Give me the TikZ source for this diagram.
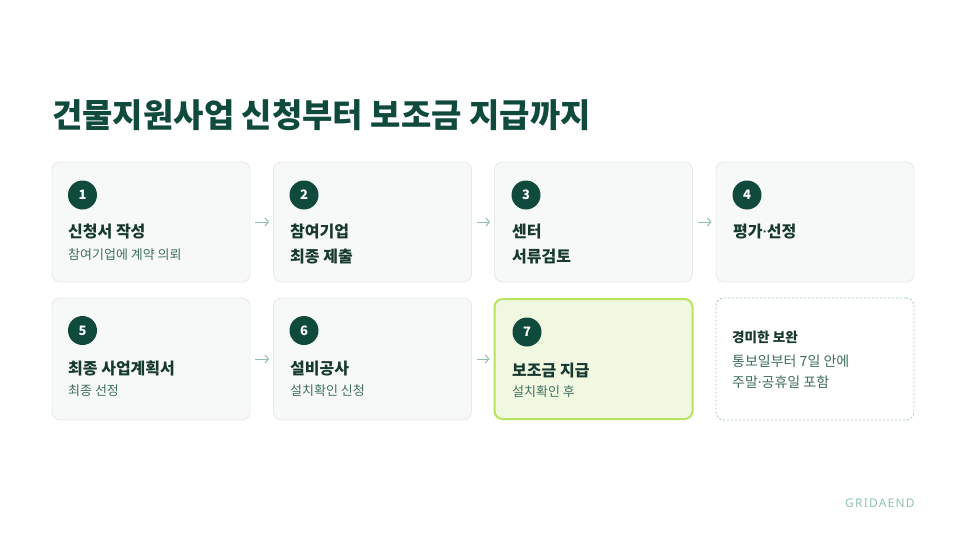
\documentclass[tikz,border=0pt]{standalone}
\usepackage{fontspec}
\setmainfont{Noto Sans CJK KR}
\newfontfamily\latinfont{Noto Sans}
\usetikzlibrary{arrows.meta}
\definecolor{dark}{HTML}{0F4A3D}
\definecolor{ttlcol}{HTML}{17392F}
\definecolor{subcol}{HTML}{3F6E60}
\definecolor{cardfill}{HTML}{F7F9F8}
\definecolor{cardline}{HTML}{E6EBE9}
\definecolor{hifill}{HTML}{F1F8E1}
\definecolor{hiline}{HTML}{B8E35F}
\definecolor{dotline}{HTML}{A9C7C0}
\definecolor{arrcol}{HTML}{8FC1AD}
\definecolor{brandcol}{HTML}{8FC3B6}
\newcommand{\mdot}{{\latinfont ·}}
\begin{document}
\begin{tikzpicture}[x=1pt,y=-1pt,
  card/.style={draw=cardline, line width=0.8pt, fill=cardfill, rounded corners=8pt, minimum width=198pt, inner sep=0pt},
  hicard/.style={card, draw=hiline, fill=hifill, line width=2pt},
  notecard/.style={card, draw=dotline, fill=white, line width=0.9pt, dash pattern=on 2pt off 2pt},
  num/.style={circle, fill=dark, minimum size=29pt, inner sep=0pt, text=white, font=\bfseries\fontsize{13}{13}\selectfont},
  ttl/.style={anchor=base west, inner sep=0pt, text=ttlcol, font=\bfseries\fontsize{16}{18}\selectfont},
  sub/.style={anchor=base west, inner sep=0pt, text=subcol, font=\fontsize{13}{15}\selectfont},
  notettl/.style={anchor=base west, inner sep=0pt, text=ttlcol, font=\bfseries\fontsize{13.6}{15}\selectfont},
  notetxt/.style={anchor=base west, inner sep=0pt, text=subcol, font=\fontsize{14}{15}\selectfont},
  arr/.style={draw=arrcol, line width=1pt, -{Straight Barb[length=3.5pt,width=8pt]}, shorten <=5pt, shorten >=4pt}
]
\useasboundingbox (0,0) rectangle (966,543);
\fill[white] (0,0) rectangle (966,543);

% main title
\node[anchor=base west, inner sep=0pt, text=dark, font=\bfseries\fontsize{33}{36}\selectfont] (title) at (52,127.5) {건물지원사업 신청부터 보조금 지급까지};

% row 1 cards
\node[card, minimum height=120pt] (b1) at (151,222) {};
\node[card, minimum height=120pt] (b2) at (372.5,222) {};
\node[card, minimum height=120pt] (b3) at (593.5,222) {};
\node[card, minimum height=120pt] (b4) at (815,222) {};
% row 2 cards
\node[card, minimum height=122pt] (b5) at (151,359) {};
\node[card, minimum height=122pt] (b6) at (372.5,359) {};
\node[hicard, minimum height=120pt] (b7) at (593.5,359) {};
\node[notecard, minimum height=122pt] (b8) at (815,359) {};

% card 1
\node[num] (n1) at (82.5,195) {1};
\node[ttl] (t1) at (68,237) {신청서 작성};
\node[sub] (s1) at (68,259.5) {참여기업에 계약 의뢰};
% card 2
\node[num] (n2) at (304,195) {2};
\node[ttl] (t2a) at (290,237) {참여기업};
\node[ttl] (t2b) at (290,262) {최종 제출};
% card 3
\node[num] (n3) at (526,195) {3};
\node[ttl] (t3a) at (512,237) {센터};
\node[ttl] (t3b) at (512,262) {서류검토};
% card 4
\node[num] (n4) at (747,195) {4};
\node[ttl] (t4) at (733,237) {평가\mdot 선정};
% card 5
\node[num] (n5) at (82.5,330.5) {5};
\node[ttl] (t5) at (68,374) {최종 사업계획서};
\node[sub] (s5) at (68,395) {최종 선정};
% card 6
\node[num] (n6) at (304,330.5) {6};
\node[ttl] (t6) at (290,374) {설비공사};
\node[sub] (s6) at (290,395) {설치확인 신청};
% card 7
\node[num] (n7) at (527,332) {7};
\node[ttl] (t7) at (512,376) {보조금 지급};
\node[sub] (s7) at (512,396) {설치확인 후};
% note card
\node[notettl] (t8) at (732,342) {경미한 보완};
\node[notetxt] (s8a) at (732,366) {통보일부터 7일 안에};
\node[notetxt] (s8b) at (732,387) {주말\mdot 공휴일 포함};

% arrows
\draw[arr] (b1.east) -- (b2.west);
\draw[arr] (b2.east) -- (b3.west);
\draw[arr] (b3.east) -- (b4.west);
\draw[arr] (b5.east) -- (b6.west);
\draw[arr] (b6.east) -- (b7.west);

% brand
\node[anchor=base west, inner sep=0pt, text=brandcol, font=\latinfont\fontsize{12}{12}\selectfont\addfontfeatures{LetterSpace=10}] (brand) at (845,507) {GRIDAEND};
\end{tikzpicture}
\end{document}
